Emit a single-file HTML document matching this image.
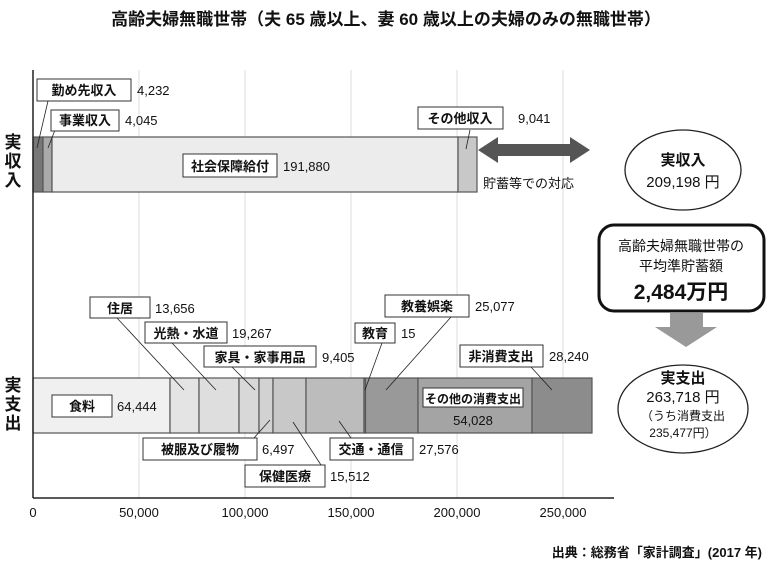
<!DOCTYPE html>
<html><head><meta charset="utf-8"><style>
body{margin:0;background:#fff}
svg{display:block;font-family:"Liberation Sans","Noto Sans CJK JP",sans-serif}
.b{font-weight:bold}
</style></head><body>
<svg width="773" height="569" viewBox="0 0 773 569" xmlns="http://www.w3.org/2000/svg">
<text x="386" y="25" text-anchor="middle" font-size="17" class="b" fill="#111">高齢夫婦無職世帯（夫 65 歳以上、妻 60 歳以上の夫婦のみの無職世帯）</text>
<g stroke="#ddd" stroke-width="1">
<line x1="139" y1="70" x2="139" y2="498"/><line x1="245" y1="70" x2="245" y2="498"/>
<line x1="351" y1="70" x2="351" y2="498"/><line x1="457" y1="70" x2="457" y2="498"/>
<line x1="563" y1="70" x2="563" y2="498"/>
</g>
<g stroke="#555" stroke-width="1.2">
<rect x="33" y="137" width="10" height="55" fill="#777"/>
<rect x="43" y="137" width="9" height="55" fill="#aaa"/>
<rect x="52" y="137" width="406" height="55" fill="#ececec"/>
<rect x="458" y="137" width="19" height="55" fill="#c8c8c8"/>
</g>
<g stroke="#555" stroke-width="1.2">
<rect x="33" y="378" width="137" height="55" fill="#f0f0f0"/>
<rect x="170" y="378" width="29" height="55" fill="#e4e4e4"/>
<rect x="199" y="378" width="40" height="55" fill="#dedede"/>
<rect x="239" y="378" width="20" height="55" fill="#d8d8d8"/>
<rect x="259" y="378" width="14" height="55" fill="#d2d2d2"/>
<rect x="273" y="378" width="33" height="55" fill="#c8c8c8"/>
<rect x="306" y="378" width="58" height="55" fill="#bcbcbc"/>
<rect x="364" y="378" width="1.5" height="55" fill="#999"/>
<rect x="365.5" y="378" width="52.5" height="55" fill="#999"/>
<rect x="418" y="378" width="114" height="55" fill="#a4a4a4"/>
<rect x="532" y="378" width="60" height="55" fill="#8c8c8c"/>
</g>
<line x1="33" y1="70" x2="33" y2="498" stroke="#222" stroke-width="1.5"/>
<line x1="33" y1="498" x2="614" y2="498" stroke="#222" stroke-width="1.5"/>
<g font-size="13" fill="#111" text-anchor="middle">
<text x="33" y="517">0</text><text x="139" y="517">50,000</text><text x="245" y="517">100,000</text>
<text x="351" y="517">150,000</text><text x="457" y="517">200,000</text><text x="563" y="517">250,000</text>
</g>
<g font-size="17" class="b" fill="#111" text-anchor="middle">
<text x="13" y="148">実</text><text x="13" y="167">収</text><text x="13" y="186">入</text>
<text x="13" y="391">実</text><text x="13" y="410">支</text><text x="13" y="429">出</text>
</g>
<g stroke="#222" stroke-width="0.8">
<line x1="48" y1="101" x2="37" y2="148"/><line x1="55" y1="130" x2="48" y2="148"/>
<line x1="470" y1="130" x2="466" y2="149"/>
<line x1="117" y1="318" x2="184" y2="390"/><line x1="172" y1="343" x2="216" y2="390"/>
<line x1="232" y1="367" x2="255" y2="390"/><line x1="382" y1="343" x2="365" y2="390"/>
<line x1="451" y1="317" x2="386" y2="390"/><line x1="531" y1="367" x2="552" y2="390"/>
<line x1="254" y1="438" x2="270" y2="420"/><line x1="321" y1="465" x2="293" y2="422"/>
<line x1="351" y1="438" x2="339" y2="421"/>
</g>
<g fill="#fff" stroke="#333" stroke-width="1">
<rect x="37" y="79" width="94" height="22"/><rect x="51" y="110" width="68" height="21"/>
<rect x="183" y="154" width="94" height="23"/><rect x="418" y="107" width="85" height="22"/>
<rect x="90" y="297" width="60" height="21"/><rect x="145" y="322" width="82" height="21"/>
<rect x="204" y="346" width="112" height="21"/><rect x="355" y="323" width="40" height="20"/>
<rect x="385" y="295" width="84" height="22"/><rect x="460" y="345" width="83" height="22"/>
<rect x="52" y="395" width="60" height="22"/><rect x="423" y="388" width="100" height="19"/>
<rect x="143" y="438" width="114" height="22"/><rect x="245" y="465" width="80" height="22"/>
<rect x="330" y="438" width="83" height="22"/>
</g>
<g font-size="13" fill="#111">
<g class="b" text-anchor="middle">
<text x="84" y="95">勤め先収入</text><text x="85" y="125">事業収入</text>
<text x="230" y="171">社会保障給付</text><text x="460" y="123">その他収入</text>
<text x="120" y="313">住居</text><text x="186" y="338">光熱・水道</text>
<text x="260" y="362">家具・家事用品</text><text x="375" y="338">教育</text>
<text x="427" y="311">教養娯楽</text><text x="501" y="361">非消費支出</text>
<text x="82" y="411">食料</text><text x="473" y="403" font-size="12">その他の消費支出</text>
<text x="200" y="454">被服及び履物</text><text x="285" y="481">保健医療</text>
<text x="371" y="454">交通・通信</text>
</g>
<text x="137" y="95">4,232</text><text x="125" y="125">4,045</text>
<text x="283" y="171">191,880</text><text x="518" y="123">9,041</text>
<text x="155" y="313">13,656</text><text x="232" y="338">19,267</text>
<text x="322" y="362">9,405</text><text x="401" y="338">15</text>
<text x="475" y="311">25,077</text><text x="549" y="361">28,240</text>
<text x="117" y="411">64,444</text><text x="473" y="425" text-anchor="middle">54,028</text>
<text x="262" y="454">6,497</text><text x="330" y="481">15,512</text>
<text x="419" y="454">27,576</text>
</g>
<polygon points="478,150 498,137 498,144 570,144 570,137 590,150 570,163 570,156 498,156 498,163" fill="#555"/>
<text x="483" y="188" font-size="13" fill="#111">貯蓄等での対応</text>
<ellipse cx="683" cy="170" rx="58" ry="40" fill="#fff" stroke="#222" stroke-width="1.3"/>
<text x="683" y="165" text-anchor="middle" font-size="15" class="b" fill="#111">実収入</text>
<text x="683" y="187" text-anchor="middle" font-size="15" fill="#111">209,198 円</text>
<rect x="599" y="225" width="165" height="86" rx="15" fill="#fff" stroke="#111" stroke-width="3"/>
<text x="681" y="251" text-anchor="middle" font-size="14" fill="#111">高齢夫婦無職世帯の</text>
<text x="681" y="271" text-anchor="middle" font-size="14" fill="#111">平均準貯蓄額</text>
<text x="681" y="299" text-anchor="middle" font-size="21" class="b" fill="#111">2,484万円</text>
<polygon points="670,313 703,313 703,327 717,327 686,347 655,327 670,327" fill="#999"/>
<ellipse cx="683" cy="409" rx="65" ry="44" fill="#fff" stroke="#222" stroke-width="1.3"/>
<text x="683" y="383" text-anchor="middle" font-size="15" class="b" fill="#111">実支出</text>
<text x="683" y="402" text-anchor="middle" font-size="15" fill="#111">263,718 円</text>
<text x="683" y="420" text-anchor="middle" font-size="12" fill="#111">（うち消費支出</text>
<text x="683" y="437" text-anchor="middle" font-size="12" fill="#111">235,477円）</text>
<text x="762" y="557" text-anchor="end" font-size="13" class="b" fill="#111">出典：総務省「家計調査」(2017 年)</text>
</svg>
</body></html>
